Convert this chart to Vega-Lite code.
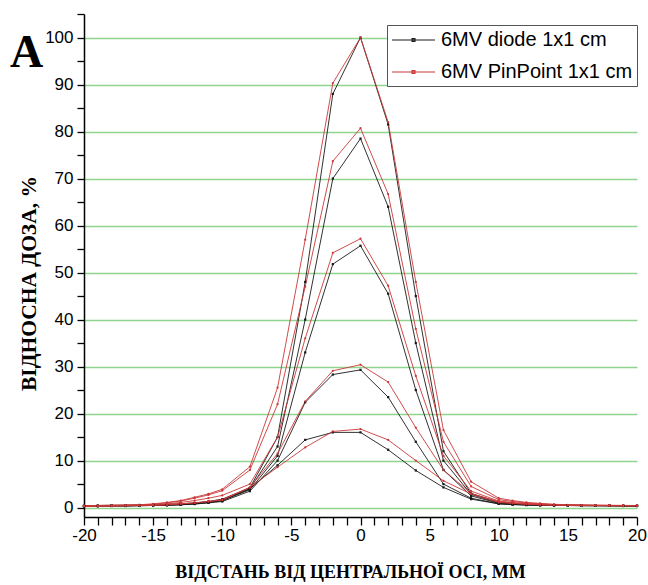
{
  "$schema": "https://vega.github.io/schema/vega-lite/v6.json",
  "width": 553,
  "height": 503,
  "autosize": {"type": "none"},
  "padding": {"left": 84, "top": 14, "right": 11, "bottom": 68},
  "background": "white",
  "config": {"view": {"stroke": null}},
  "data": {"values": [
    {"x": -20, "det": "6MV diode 1x1 cm", "c1": 0.4, "c2": 0.35, "c3": 0.3, "c4": 0.3, "c5": 0.3},
    {"x": -19, "det": "6MV diode 1x1 cm", "c1": 0.45, "c2": 0.4, "c3": 0.35, "c4": 0.3, "c5": 0.3},
    {"x": -18, "det": "6MV diode 1x1 cm", "c1": 0.5, "c2": 0.45, "c3": 0.4, "c4": 0.35, "c5": 0.35},
    {"x": -17, "det": "6MV diode 1x1 cm", "c1": 0.5, "c2": 0.45, "c3": 0.4, "c4": 0.35, "c5": 0.35},
    {"x": -16, "det": "6MV diode 1x1 cm", "c1": 0.55, "c2": 0.5, "c3": 0.45, "c4": 0.4, "c5": 0.4},
    {"x": -15, "det": "6MV diode 1x1 cm", "c1": 0.6, "c2": 0.55, "c3": 0.5, "c4": 0.45, "c5": 0.45},
    {"x": -14, "det": "6MV diode 1x1 cm", "c1": 0.7, "c2": 0.6, "c3": 0.55, "c4": 0.5, "c5": 0.5},
    {"x": -13, "det": "6MV diode 1x1 cm", "c1": 0.8, "c2": 0.7, "c3": 0.65, "c4": 0.6, "c5": 0.6},
    {"x": -12, "det": "6MV diode 1x1 cm", "c1": 1.0, "c2": 0.9, "c3": 0.8, "c4": 0.75, "c5": 0.8},
    {"x": -11, "det": "6MV diode 1x1 cm", "c1": 1.3, "c2": 1.2, "c3": 1.1, "c4": 1.0, "c5": 1.1},
    {"x": -10, "det": "6MV diode 1x1 cm", "c1": 1.8, "c2": 1.6, "c3": 1.5, "c4": 1.3, "c5": 1.5},
    {"x": -8, "det": "6MV diode 1x1 cm", "c1": 4.2, "c2": 4.0, "c3": 3.8, "c4": 3.5, "c5": 4.0},
    {"x": -6, "det": "6MV diode 1x1 cm", "c1": 15, "c2": 13, "c3": 11, "c4": 10, "c5": 9},
    {"x": -4, "det": "6MV diode 1x1 cm", "c1": 48, "c2": 40, "c3": 33, "c4": 22.4, "c5": 14.4},
    {"x": -2, "det": "6MV diode 1x1 cm", "c1": 88, "c2": 70, "c3": 51.8, "c4": 28.3, "c5": 16.0},
    {"x": 0, "det": "6MV diode 1x1 cm", "c1": 100, "c2": 78.5, "c3": 55.7, "c4": 29.3, "c5": 16.0},
    {"x": 2, "det": "6MV diode 1x1 cm", "c1": 81.5, "c2": 64, "c3": 45.5, "c4": 23.5, "c5": 12.3},
    {"x": 4, "det": "6MV diode 1x1 cm", "c1": 45, "c2": 35, "c3": 25, "c4": 14, "c5": 7.9},
    {"x": 6, "det": "6MV diode 1x1 cm", "c1": 12, "c2": 10, "c3": 8, "c4": 5, "c5": 4.3},
    {"x": 8, "det": "6MV diode 1x1 cm", "c1": 3, "c2": 2.8, "c3": 2.5, "c4": 2, "c5": 1.8},
    {"x": 10, "det": "6MV diode 1x1 cm", "c1": 1.2, "c2": 1.0, "c3": 0.9, "c4": 0.8, "c5": 0.8},
    {"x": 11, "det": "6MV diode 1x1 cm", "c1": 0.9, "c2": 0.8, "c3": 0.7, "c4": 0.65, "c5": 0.65},
    {"x": 12, "det": "6MV diode 1x1 cm", "c1": 0.7, "c2": 0.65, "c3": 0.6, "c4": 0.55, "c5": 0.55},
    {"x": 13, "det": "6MV diode 1x1 cm", "c1": 0.6, "c2": 0.55, "c3": 0.5, "c4": 0.5, "c5": 0.5},
    {"x": 14, "det": "6MV diode 1x1 cm", "c1": 0.55, "c2": 0.5, "c3": 0.5, "c4": 0.45, "c5": 0.45},
    {"x": 15, "det": "6MV diode 1x1 cm", "c1": 0.5, "c2": 0.5, "c3": 0.45, "c4": 0.45, "c5": 0.45},
    {"x": 16, "det": "6MV diode 1x1 cm", "c1": 0.5, "c2": 0.45, "c3": 0.45, "c4": 0.4, "c5": 0.4},
    {"x": 17, "det": "6MV diode 1x1 cm", "c1": 0.45, "c2": 0.45, "c3": 0.4, "c4": 0.4, "c5": 0.4},
    {"x": 18, "det": "6MV diode 1x1 cm", "c1": 0.45, "c2": 0.4, "c3": 0.4, "c4": 0.4, "c5": 0.4},
    {"x": 19, "det": "6MV diode 1x1 cm", "c1": 0.4, "c2": 0.4, "c3": 0.4, "c4": 0.35, "c5": 0.35},
    {"x": 20, "det": "6MV diode 1x1 cm", "c1": 0.4, "c2": 0.4, "c3": 0.35, "c4": 0.35, "c5": 0.35},
    {"x": -20, "det": "6MV PinPoint 1x1 cm", "c1": 0.4, "c2": 0.35, "c3": 0.3, "c4": 0.3, "c5": 0.3},
    {"x": -19, "det": "6MV PinPoint 1x1 cm", "c1": 0.45, "c2": 0.4, "c3": 0.35, "c4": 0.3, "c5": 0.3},
    {"x": -18, "det": "6MV PinPoint 1x1 cm", "c1": 0.5, "c2": 0.45, "c3": 0.4, "c4": 0.35, "c5": 0.35},
    {"x": -17, "det": "6MV PinPoint 1x1 cm", "c1": 0.55, "c2": 0.5, "c3": 0.45, "c4": 0.4, "c5": 0.4},
    {"x": -16, "det": "6MV PinPoint 1x1 cm", "c1": 0.6, "c2": 0.55, "c3": 0.5, "c4": 0.45, "c5": 0.45},
    {"x": -15, "det": "6MV PinPoint 1x1 cm", "c1": 0.8, "c2": 0.7, "c3": 0.6, "c4": 0.5, "c5": 0.5},
    {"x": -14, "det": "6MV PinPoint 1x1 cm", "c1": 1.1, "c2": 1.0, "c3": 0.8, "c4": 0.6, "c5": 0.6},
    {"x": -13, "det": "6MV PinPoint 1x1 cm", "c1": 1.5, "c2": 1.4, "c3": 1.1, "c4": 0.8, "c5": 0.8},
    {"x": -12, "det": "6MV PinPoint 1x1 cm", "c1": 2.2, "c2": 2.0, "c3": 1.5, "c4": 1.0, "c5": 1.0},
    {"x": -11, "det": "6MV PinPoint 1x1 cm", "c1": 2.9, "c2": 2.7, "c3": 2.0, "c4": 1.3, "c5": 1.3},
    {"x": -10, "det": "6MV PinPoint 1x1 cm", "c1": 3.9, "c2": 3.6, "c3": 2.6, "c4": 1.7, "c5": 1.6},
    {"x": -8, "det": "6MV PinPoint 1x1 cm", "c1": 8.7, "c2": 8.0, "c3": 5.0, "c4": 4.3, "c5": 4.3},
    {"x": -6, "det": "6MV PinPoint 1x1 cm", "c1": 25.5, "c2": 22, "c3": 15, "c4": 11.5, "c5": 8.6},
    {"x": -4, "det": "6MV PinPoint 1x1 cm", "c1": 57, "c2": 47, "c3": 36, "c4": 22.6, "c5": 12.8},
    {"x": -2, "det": "6MV PinPoint 1x1 cm", "c1": 90.3, "c2": 73.7, "c3": 54.2, "c4": 29.1, "c5": 16.2},
    {"x": 0, "det": "6MV PinPoint 1x1 cm", "c1": 100, "c2": 80.7, "c3": 57.2, "c4": 30.4, "c5": 16.7},
    {"x": 2, "det": "6MV PinPoint 1x1 cm", "c1": 82, "c2": 66.7, "c3": 47.2, "c4": 26.7, "c5": 14.4},
    {"x": 4, "det": "6MV PinPoint 1x1 cm", "c1": 48, "c2": 38, "c3": 28, "c4": 17, "c5": 10},
    {"x": 6, "det": "6MV PinPoint 1x1 cm", "c1": 16.5, "c2": 14, "c3": 11, "c4": 8, "c5": 5.7},
    {"x": 8, "det": "6MV PinPoint 1x1 cm", "c1": 5.5, "c2": 4.5, "c3": 3.5, "c4": 3, "c5": 2.9},
    {"x": 10, "det": "6MV PinPoint 1x1 cm", "c1": 2.0, "c2": 1.7, "c3": 1.4, "c4": 1.2, "c5": 1.1},
    {"x": 11, "det": "6MV PinPoint 1x1 cm", "c1": 1.5, "c2": 1.3, "c3": 1.1, "c4": 0.95, "c5": 0.9},
    {"x": 12, "det": "6MV PinPoint 1x1 cm", "c1": 1.1, "c2": 1.0, "c3": 0.85, "c4": 0.75, "c5": 0.7},
    {"x": 13, "det": "6MV PinPoint 1x1 cm", "c1": 0.9, "c2": 0.8, "c3": 0.7, "c4": 0.6, "c5": 0.6},
    {"x": 14, "det": "6MV PinPoint 1x1 cm", "c1": 0.7, "c2": 0.65, "c3": 0.6, "c4": 0.55, "c5": 0.5},
    {"x": 15, "det": "6MV PinPoint 1x1 cm", "c1": 0.6, "c2": 0.55, "c3": 0.5, "c4": 0.5, "c5": 0.5},
    {"x": 16, "det": "6MV PinPoint 1x1 cm", "c1": 0.55, "c2": 0.5, "c3": 0.5, "c4": 0.45, "c5": 0.45},
    {"x": 17, "det": "6MV PinPoint 1x1 cm", "c1": 0.5, "c2": 0.5, "c3": 0.45, "c4": 0.45, "c5": 0.45},
    {"x": 18, "det": "6MV PinPoint 1x1 cm", "c1": 0.5, "c2": 0.45, "c3": 0.45, "c4": 0.4, "c5": 0.4},
    {"x": 19, "det": "6MV PinPoint 1x1 cm", "c1": 0.45, "c2": 0.45, "c3": 0.4, "c4": 0.4, "c5": 0.4},
    {"x": 20, "det": "6MV PinPoint 1x1 cm", "c1": 0.45, "c2": 0.4, "c3": 0.4, "c4": 0.4, "c5": 0.4}
  ]},
  "transform": [{"fold": ["c1", "c2", "c3", "c4", "c5"], "as": ["curve", "y"]}],
  "encoding": {
    "x": {"field": "x", "type": "quantitative", "scale": {"domain": [-20, 20], "nice": false, "zero": false},
      "axis": {"orient": "bottom", "values": [-20, -19, -18, -17, -16, -15, -14, -13, -12, -11, -10, -9, -8, -7, -6, -5, -4, -3, -2, -1, 0, 1, 2, 3, 4, 5, 6, 7, 8, 9, 10, 11, 12, 13, 14, 15, 16, 17, 18, 19, 20],
        "tickCount": 200,
        "labelExpr": "datum.value % 5 === 0 ? '' + datum.value : ''", "labelOverlap": false,
        "title": "ВІДСТАНЬ ВІД ЦЕНТРАЛЬНОЇ ОСІ, ММ",
        "grid": false, "tickSize": 8, "tickWidth": 1.3, "tickColor": "black", "domainColor": "black", "domainWidth": 1.5,
        "encode": {"ticks": {"update": {"y2": {"signal": "datum.value % 5 === 0 ? 8 : 5"}}}},
        "labelFont": "Liberation Sans", "labelFontSize": 17, "labelColor": "black", "labelPadding": 2, "labelFlush": false,
        "titleFont": "Liberation Serif", "titleFontSize": 18, "titleFontWeight": "bold", "titleColor": "black",
        "titleX": 266, "titleY": 60, "titleBaseline": "alphabetic"}},
    "y": {"field": "y", "type": "quantitative", "scale": {"domain": [-2, 105], "nice": false, "zero": false},
      "axis": {"orient": "left", "values": [0, 5, 10, 15, 20, 25, 30, 35, 40, 45, 50, 55, 60, 65, 70, 75, 80, 85, 90, 95, 100, 105],
        "tickCount": 200,
        "labelExpr": "datum.value % 10 === 0 && datum.value <= 100 ? '' + datum.value : ''", "labelOverlap": false,
        "title": "ВІДНОСНА ДОЗА, %",
        "grid": true, "gridColor": "#8fd48f", "gridWidth": 1.3, "gridOpacity": {"condition": {"test": "datum.value % 10 === 0 && datum.value <= 100", "value": 1}, "value": 0},
        "tickSize": 7, "tickWidth": 1.3, "tickColor": "black",
        "encode": {"ticks": {"update": {"x2": {"signal": "datum.value % 10 === 0 ? -7 : -4"}}}},
        "domainColor": "black", "domainWidth": 1.5, "labelFont": "Liberation Sans", "labelFontSize": 17, "labelColor": "black",
        "labelPadding": 4, "labelFlush": false, "titleFont": "Liberation Serif", "titleFontSize": 21.5, "titleFontWeight": "bold",
        "titleColor": "black", "titleX": -49, "titleY": 269, "titleBaseline": "alphabetic"}}
  },
  "layer": [
    {
      "mark": {"type": "line", "strokeWidth": 0.9},
      "encoding": {
        "color": {"field": "det", "type": "nominal",
          "scale": {"domain": ["6MV diode 1x1 cm", "6MV PinPoint 1x1 cm"], "range": ["#1a1a1a", "#cc3838"]},
          "legend": {"orient": "none", "legendX": 303, "legendY": 11, "title": null, "labelFont": "Liberation Sans", "labelFontSize": 20,
            "labelColor": "black", "labelLimit": 400, "symbolType": "M-1,0H3.3M1.01,-0.14H1.29V0.14H1.01Z", "symbolSize": 400, "symbolStrokeWidth": 1.2,
            "strokeColor": "#555555", "fillColor": "white", "padding": 4, "rowPadding": 11, "labelOffset": 28,
            "labelExpr": "datum.label == '6MV PinPoint 1x1 cm' ? '\u00a06MV PinPoint 1x1 cm' : datum.label"}},
        "detail": {"field": "curve", "type": "nominal"}
      }
    },
    {
      "transform": [{"filter": "datum.det == '6MV diode 1x1 cm'"}],
      "mark": {"type": "point", "shape": "square", "filled": true, "size": 5, "color": "#1a1a1a"},
      "encoding": {
        "opacity": {"field": "curve", "type": "ordinal", "scale": {"range": [1, 1]},
          "legend": {"orient": "none", "legendX": -74, "legendY": 17, "title": "A", "titleFont": "Liberation Serif", "titleFontSize": 46,
            "titleFontWeight": "bold", "titleColor": "black", "titleBaseline": "top", "titlePadding": 0, "padding": 0, "values": ["c1"],
            "symbolSize": 0, "symbolStrokeWidth": 0, "symbolFillColor": "transparent", "symbolStrokeColor": "transparent",
            "labelExpr": "''", "labelFontSize": 1, "labelOpacity": 0}}
      }
    },
    {
      "transform": [{"filter": "datum.det == '6MV PinPoint 1x1 cm'"}],
      "mark": {"type": "point", "shape": "circle", "filled": true, "size": 5, "opacity": 1, "color": "#cc3838"}
    }
  ]
}
